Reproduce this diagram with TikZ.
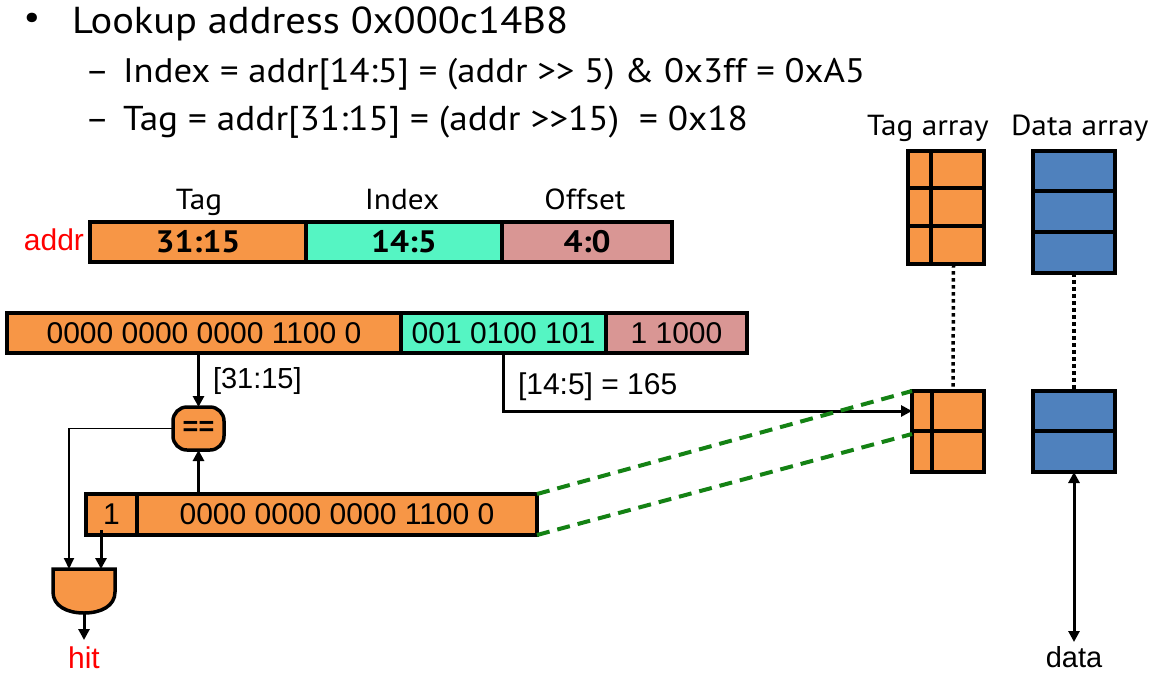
\documentclass[tikz,border=0pt]{standalone}
\usepackage{fontspec}
\setmainfont{Liberation Sans}
\newfontfamily\tah{PT Sans}[FakeStretch=1.08]
\usetikzlibrary{arrows.meta}
\definecolor{org}{HTML}{F79646}
\definecolor{cyn}{HTML}{55F5C3}
\definecolor{pnk}{HTML}{D99694}
\definecolor{blu}{HTML}{4F81BD}
\definecolor{grn}{RGB}{20,130,20}
\newcommand\fsz[1]{\fontsize{#1}{#1}\selectfont}
\begin{document}
\begin{tikzpicture}[x=1pt,y=-1pt,
  box/.style={draw=black,line width=3.5pt,inner sep=0pt,outer sep=0pt,anchor=north west},
  arr/.style={line width=3pt,-{Triangle[length=11pt,width=11pt]}},
  thinarr/.style={line width=1.8pt,-{Triangle[length=11pt,width=10pt]}},
  darr/.style={line width=3pt,{Triangle[length=11pt,width=11pt]}-{Triangle[length=11pt,width=11pt]}},
  dotl/.style={line width=3.5pt,dash pattern=on 3.5pt off 3.5pt},
  gdash/.style={draw=grn,line width=4pt,dash pattern=on 13pt off 8pt},
  grid/.style={line width=3.5pt},
  bintext/.style={font=\fsz{30}},
  lbl/.style={inner sep=0pt,outer sep=0pt}]
\useasboundingbox (0,0) rectangle (1151,673);

% heading text
\node[lbl,anchor=center,font=\tah\fsz{34}] (bul) at (32,21) {•};
\node[lbl,anchor=base west,font=\tah\fsz{37.5}] (l1) at (72,33) {Lookup address 0x000c14B8};
\node[lbl,anchor=base west,font=\tah\fsz{34}] (d2) at (85,82) {–};
\node[lbl,anchor=base west,font=\tah\fsz{34}] (l2) at (123,82) {Index = addr[14:5] = (addr >> 5) \& 0x3ff = 0xA5};
\node[lbl,anchor=base west,font=\tah\fsz{34}] (d3) at (85,130) {–};
\node[lbl,anchor=base west,font=\tah\fsz{34.5}] (l3) at (123,130) {Tag = addr[31:15] = (addr >>15) \ = 0x18};

% address layout
\node[lbl,anchor=base,font=\tah\fsz{29}] (hTag) at (199,209) {Tag};
\node[lbl,anchor=base,font=\tah\fsz{29}] (hIdx) at (402,209) {Index};
\node[lbl,anchor=base,font=\tah\fsz{29}] (hOff) at (585,209) {Offset};
\node[box,fill=org,minimum width=216pt,minimum height=40pt,font=\tah\bfseries\fsz{31}] (aTag) at (90,222) {31:15};
\node[box,fill=cyn,minimum width=196pt,minimum height=40pt,font=\tah\bfseries\fsz{31}] (aIdx) at (306,222) {14:5};
\node[box,fill=pnk,minimum width=170pt,minimum height=40pt,font=\tah\bfseries\fsz{31}] (aOff) at (502,222) {4:0};
\node[lbl,anchor=east,text=red,font=\fsz{30}] (addr) at (84,240) {addr};

% looked-up address bits
\node[box,fill=org,minimum width=394pt,minimum height=40pt,bintext] (bTag) at (7,313) {0000 0000 0000 1100 0};
\node[box,fill=cyn,minimum width=205pt,minimum height=40pt,bintext] (bIdx) at (401,313) {001 0100 101};
\node[box,fill=pnk,minimum width=141pt,minimum height=40pt,bintext] (bOff) at (606,313) {1 1000};

% comparator
\node[draw=black,line width=3.5pt,fill=org,rounded corners=14pt,minimum width=51pt,minimum height=43pt,inner sep=0pt,outer sep=0pt,font=\bfseries\fsz{27}] (cmp) at (198.5,428.5) {==};
\node[lbl,anchor=west,font=\fsz{29}] (l3115) at (213,381) {[31:15]};

% stored tag entry
\node[box,fill=org,minimum width=51pt,minimum height=41pt,bintext] (vcell) at (86,494) {1};
\node[box,fill=org,minimum width=400pt,minimum height=41pt,bintext] (tcell) at (137,494) {0000 0000 0000 1100 0};

% AND gate
\draw[line width=3.5pt,fill=org] (53,569) -- (115,569) -- (115,592) .. controls (115,606) and (101,613) .. (84,613) .. controls (67,613) and (53,606) .. (53,592) -- cycle;
\coordinate (gA) at (69,569);
\coordinate (gB) at (101,569);
\coordinate (gOut) at (84,613);
\coordinate (hitp) at (84,640);
\coordinate (vsrc) at (101,530);
\node[lbl,anchor=base,text=red,font=\fsz{30}] (hit) at (84,668) {hit};

% tag array
\node[lbl,anchor=base west,font=\tah\fsz{29}] (hTA) at (867,135) {Tag array};
\node[lbl,anchor=base west,font=\tah\fsz{29}] (hDA) at (1011,135) {Data array};
\node[box,fill=org,minimum width=23pt,minimum height=113pt] (tTv) at (908,151) {};
\node[box,fill=org,minimum width=53pt,minimum height=113pt] (tTt) at (931,151) {};
\draw[grid] (tTv.west |- 0,188) -- (tTt.east |- 0,188);
\draw[grid] (tTv.west |- 0,226) -- (tTt.east |- 0,226);
\node[box,fill=org,minimum width=20pt,minimum height=40pt] (tL1v) at (912,391) {};
\node[box,fill=org,minimum width=52pt,minimum height=40pt] (tL1t) at (932,391) {};
\node[box,fill=org,minimum width=20pt,minimum height=41pt] (tL2v) at (912,431) {};
\node[box,fill=org,minimum width=52pt,minimum height=41pt] (tL2t) at (932,431) {};

% data array
\node[box,fill=blu,minimum width=82pt,minimum height=122pt] (dT) at (1033,151) {};
\draw[grid] (dT.west |- 0,191) -- (dT.east |- 0,191);
\draw[grid] (dT.west |- 0,232) -- (dT.east |- 0,232);
\node[box,fill=blu,minimum width=82pt,minimum height=40pt] (dL1) at (1033,391) {};
\node[box,fill=blu,minimum width=82pt,minimum height=41pt] (dL2) at (1033,431) {};
\coordinate (dout) at (1074,642);
\node[lbl,anchor=base,font=\fsz{29}] (data) at (1074,667) {data};

% dotted continuation
\draw[dotl] ([xshift=-4pt]tTt.south) -- ([xshift=-5pt]tL1t.north);
\draw[dotl] (dT.south) -- (dL1.north);

% connectors
\draw[arr] (cmp.north |- bTag.south) -- (cmp.north);
\draw[arr] (cmp.south |- tcell.north) -- (cmp.south);
\draw[thinarr] (cmp.west) -| (gA);
\draw[arr] (vsrc) -- (gB);
\draw[arr] (gOut) -- (hitp);
\draw[arr] (bIdx.south) |- (tL1v.west);
\node[lbl,anchor=west,font=\fsz{30}] (l145) at (518,387) {[14:5] = 165};
\draw[gdash] (tcell.north east) -- (tL1v.north west);
\draw[gdash] (tcell.south east) -- ([yshift=-3pt]tL1v.south west);
\draw[darr] (dL2.south) -- (dout);
\end{tikzpicture}
\end{document}
